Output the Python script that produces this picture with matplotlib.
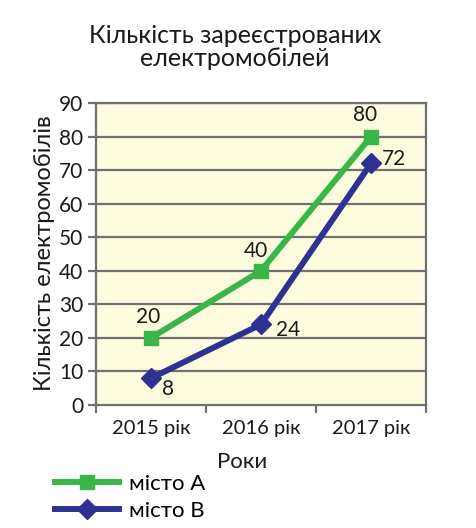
import matplotlib
matplotlib.use("Agg")
import matplotlib.pyplot as plt
from matplotlib.lines import Line2D

categories = ["2015 рік", "2016 рік", "2017 рік"]
city_a = [20, 40, 80]
city_b = [8, 24, 72]
series_names = ["місто А", "місто В"]
y_ticks = [0, 10, 20, 30, 40, 50, 60, 70, 80, 90]

plt.rcParams['font.family'] = ['Lato', 'DejaVu Sans']

W, H = 477, 528
fig = plt.figure(figsize=(W/100, H/100), dpi=100)
ax = fig.add_axes([96/W, (H-405)/H, 330/W, 302/H])

green = '#3ab54a'
navy = '#2e3192'
grey = '#707070'
txt = '#1a1a1a'

ax.set_facecolor('#fdfbdd')
x = [0.5, 1.5, 2.5]
ax.set_xlim(0, 3)
ax.set_ylim(0, 90)

for v in y_ticks[1:]:
    ax.axhline(v, color=grey, lw=1.6, zorder=1)

ax.plot(x, city_a, color=green, lw=4.3, marker='s', ms=10, zorder=3)
ax.plot(x, city_b, color=navy, lw=4.3, marker='D', ms=10, zorder=3)

offs_a = [(-2, 8), (-4, 7), (-4, 8)]
for xi, v, o in zip(x, city_a, offs_a):
    ax.annotate(str(v), (xi, v), xytext=o, textcoords='offset points',
                ha='center', va='bottom', fontsize=15, color=txt)
offs_b = [(8, -8), (11, -4), (8, 3)]
for xi, v, o in zip(x, city_b, offs_b):
    ax.annotate(str(v), (xi, v), xytext=o, textcoords='offset points',
                ha='left', va='center', fontsize=15, color=txt)

ax.set_xticks([0, 1, 2, 3])
ax.set_xticklabels([])
ax.set_xticks(x, minor=True)
ax.set_xticklabels(categories, minor=True, fontsize=14.5, color=txt)
ax.tick_params(axis='x', which='major', length=6, width=1.6, color=grey)
ax.tick_params(axis='x', which='minor', length=0, pad=11)
ax.set_yticks(y_ticks)
ax.set_yticklabels([str(v) for v in y_ticks], fontsize=15, color=txt)
ax.tick_params(axis='y', length=6, width=1.6, color=grey, pad=3)

for s in ax.spines.values():
    s.set_color(grey)
    s.set_linewidth(1.6)

fig.text(45/W, 1-253/H, "Кількість електромобілів", rotation=90, ha='center', va='center',
         fontsize=17, color=txt)
fig.text(242/W, 1-462/H, "Роки", ha='center', va='center', fontsize=16, color=txt)
fig.text(235/W, 1-47/H, "Кількість зареєстрованих\nелектромобілей", ha='center', va='center',
         fontsize=18, color=txt, linespacing=1.05)

handles = [Line2D([], [], color=green, lw=4.3, marker='s', ms=10),
           Line2D([], [], color=navy, lw=4.3, marker='D', ms=10)]
fig.legend(handles, series_names, loc='upper left', bbox_to_anchor=(46/W, 1-465/H),
           frameon=False, fontsize=16, handlelength=2.9, handletextpad=0.45,
           labelspacing=0.3, borderaxespad=0)

fig.savefig("out.png", dpi=100)
